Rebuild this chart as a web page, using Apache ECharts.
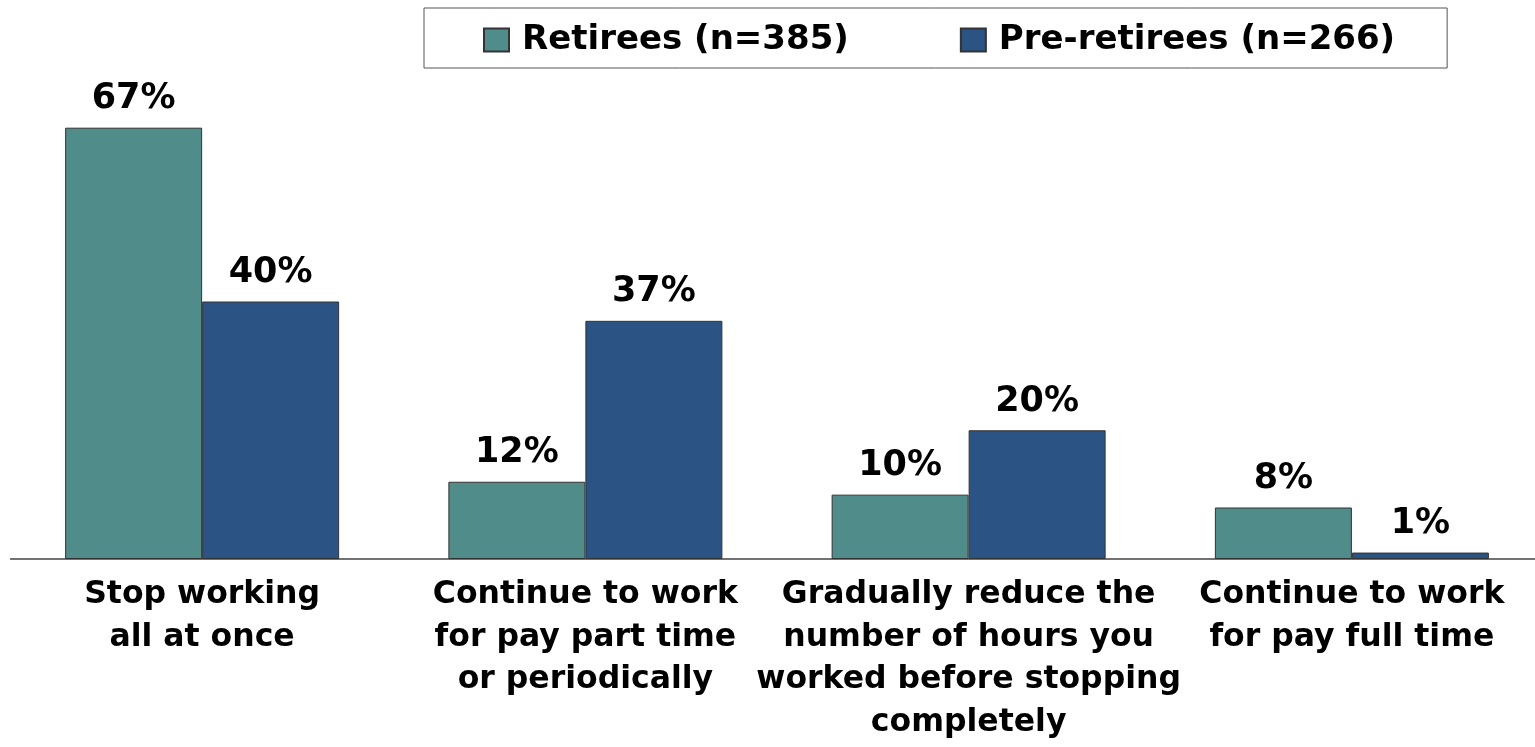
<!DOCTYPE html>
<html>
<head>
<meta charset="utf-8">
<script src="https://cdn.jsdelivr.net/npm/echarts@6/dist/echarts.min.js"></script>
<style>
  html, body { margin: 0; padding: 0; background: #fff; overflow: hidden; }
  #chart { width: 1535px; height: 747px; }
</style>
</head>
<body>
<div id="chart"></div>
<script>
// Retirement approach: how people stopped / plan to stop working
const categories = [
  'Stop working\nall at once',
  'Continue to work\nfor pay part time\nor periodically',
  'Gradually reduce the\nnumber of hours you\nworked before stopping\ncompletely',
  'Continue to work\nfor pay full time'
];
const retirees = [67, 12, 10, 8];
const preRetirees = [40, 37, 20, 1];
const seriesNames = ['Retirees (n=385)', 'Pre-retirees (n=266)'];

const FONT = '"DejaVu Sans", "Liberation Sans", Arial, sans-serif';
const chart = echarts.init(document.getElementById('chart'));

const labelStyle = {
  show: true,
  position: 'top',
  distance: 11,
  formatter: '{c}%',
  color: '#000',
  fontFamily: FONT,
  fontWeight: 'bold',
  fontSize: 35
};

chart.setOption({
  animation: false,
  backgroundColor: '#fff',
  legend: {
    top: 8,
    left: 424,
    padding: [15, 52, 11, 59],
    borderColor: '#555',
    borderWidth: 1,
    icon: 'rect',
    itemWidth: 25,
    itemHeight: 23,
    itemGap: 111,
    textStyle: { color: '#000', fontFamily: FONT, fontWeight: 'bold', fontSize: 34, padding: [0, 0, 0, 8] },
    data: seriesNames
  },
  grid: { left: 10.5, width: 1533, top: 44, bottom: 188, containLabel: false, outerBoundsMode: 'none' },
  xAxis: {
    type: 'category',
    data: categories,
    axisLine: { lineStyle: { color: '#444', width: 1.5 } },
    axisTick: { show: false },
    axisLabel: {
      interval: 0,
      margin: 15,
      color: '#000',
      fontFamily: FONT,
      fontWeight: 'bold',
      fontSize: 31.5,
      lineHeight: 42.5
    }
  },
  yAxis: {
    type: 'value',
    min: 0,
    max: 80,
    show: false,
    splitLine: { show: false }
  },
  series: [
    {
      name: seriesNames[0],
      type: 'bar',
      data: retirees,
      barWidth: 137,
      barGap: '0%',
      itemStyle: { color: '#508C8A', borderColor: '#333', borderWidth: 1 },
      label: labelStyle
    },
    {
      name: seriesNames[1],
      type: 'bar',
      data: preRetirees,
      barWidth: 137,
      barGap: '0%',
      itemStyle: { color: '#2B5384', borderColor: '#333', borderWidth: 1 },
      label: labelStyle
    }
  ]
});
</script>
</body>
</html>
